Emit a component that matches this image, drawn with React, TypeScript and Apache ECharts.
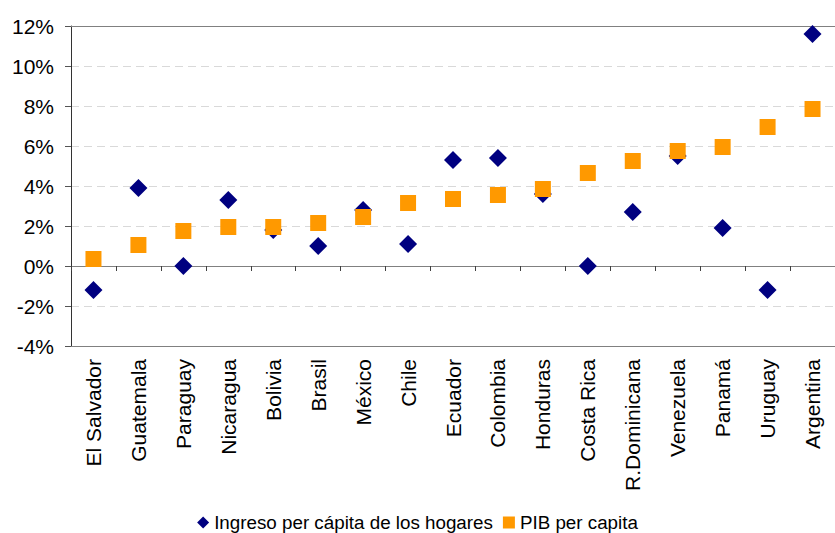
import React, { useEffect, useRef } from "react";
import * as echarts from "echarts";

const categories = [
  "El Salvador", "Guatemala", "Paraguay", "Nicaragua", "Bolivia", "Brasil",
  "México", "Chile", "Ecuador", "Colombia", "Honduras", "Costa Rica",
  "R.Dominicana", "Venezuela", "Panamá", "Uruguay", "Argentina",
];
const ingresoPerCapita = [-1.2, 3.9, 0, 3.3, 1.8, 1.0, 2.8, 1.1, 5.3, 5.4, 3.6, 0, 2.7, 5.5, 1.9, -1.2, 11.6];
const pibPerCapita = [0.35, 1.05, 1.75, 1.95, 1.95, 2.15, 2.45, 3.15, 3.35, 3.55, 3.85, 4.65, 5.25, 5.75, 5.95, 6.95, 7.85];
const seriesNames = ["Ingreso per cápita de los hogares", "PIB per capita"];
const yMin = -4;
const yMax = 12;
const yInterval = 2;

const FONT = '"Liberation Sans", Arial, sans-serif';

export default function App() {
  const ref = useRef<HTMLDivElement>(null);
  useEffect(() => {
    document.body.style.margin = "0";
    if (!ref.current) return;
    const chart = echarts.init(ref.current, null, { renderer: "svg" });
    chart.setOption({
      animation: false,
      backgroundColor: "#ffffff",
      textStyle: { fontFamily: FONT },
      grid: { left: 71, top: 26, width: 773, height: 320, containLabel: false },
      legend: {
        top: 512,
        left: "center",
        padding: 0,
        itemWidth: 12,
        itemHeight: 12,
        itemGap: 10,
        textStyle: { fontFamily: FONT, fontSize: 18.8, color: "#000", lineHeight: 21 },
        data: [
          { name: seriesNames[0], icon: "diamond" },
          { name: seriesNames[1], icon: "rect" },
        ],
      },
      xAxis: [
        {
          type: "category",
          data: categories,
          position: "bottom",
          boundaryGap: true,
          axisLine: { onZero: false, lineStyle: { color: "#808080", width: 1 } },
          axisTick: { show: false },
          axisLabel: {
            rotate: 90,
            interval: 0,
            margin: 13,
            fontFamily: FONT,
            fontSize: 21,
            color: "#000",
          },
          splitLine: { show: false },
        },
        {
          type: "category",
          data: categories,
          position: "bottom",
          boundaryGap: true,
          axisLine: { onZero: true, lineStyle: { color: "#808080", width: 1 } },
          axisTick: { show: true, inside: false, length: 5, interval: 0, lineStyle: { color: "#404040" } },
          axisLabel: { show: false },
          splitLine: { show: false },
        },
        {
          type: "category",
          data: categories,
          position: "top",
          boundaryGap: true,
          axisLine: { onZero: false, lineStyle: { color: "#808080", width: 1 } },
          axisTick: { show: false },
          axisLabel: { show: false },
          splitLine: { show: false },
        },
      ],
      yAxis: {
        type: "value",
        min: yMin,
        max: yMax,
        interval: yInterval,
        axisLine: { show: true, lineStyle: { color: "#333333", width: 1 } },
        axisTick: { show: true, length: 6, lineStyle: { color: "#555555" } },
        axisLabel: {
          formatter: "{value}%",
          margin: 17,
          fontFamily: FONT,
          fontSize: 21,
          color: "#000",
        },
        splitLine: { show: true, lineStyle: { color: "#d9d9d9", type: [8, 5], width: 1 } },
      },
      series: [
        {
          name: seriesNames[0],
          type: "scatter",
          xAxisIndex: 0,
          symbol: "diamond",
          symbolSize: 18,
          itemStyle: { color: "#000080", opacity: 1 },
          data: ingresoPerCapita,
        },
        {
          name: seriesNames[1],
          type: "scatter",
          xAxisIndex: 0,
          symbol: "rect",
          symbolSize: 16,
          itemStyle: { color: "#FF9900", opacity: 1 },
          data: pibPerCapita,
        },
      ],
    });
    return () => chart.dispose();
  }, []);
  return <div ref={ref} style={{ width: 835, height: 533 }} />;
}
